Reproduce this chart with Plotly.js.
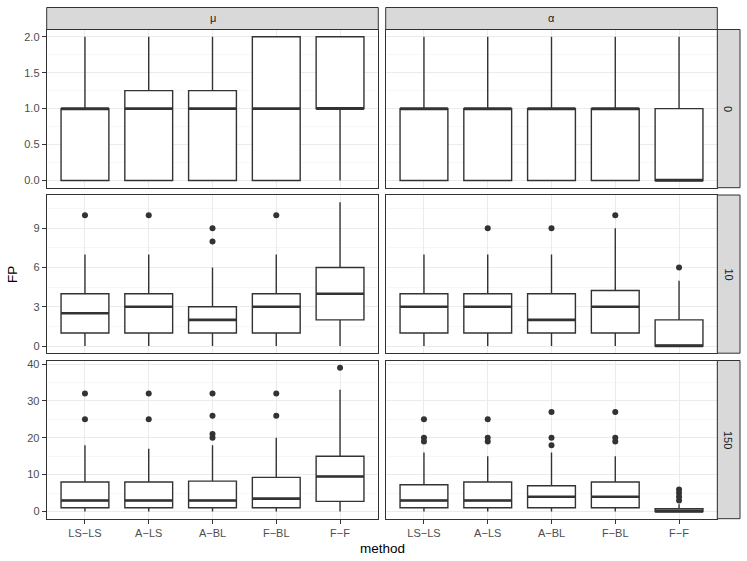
<!DOCTYPE html>
<html><head><meta charset="utf-8">
<script src="https://cdn.plot.ly/plotly-3.0.1.min.js"></script>
<style>html,body{margin:0;padding:0;background:#fff}</style>
</head><body><div id="chart" style="width:747px;height:561px"></div>
<script>
const methods = ['LS\u2212LS','A\u2212LS','A\u2212BL','F\u2212BL','F\u2212F'];
const colLabels = ['\u03bc','\u03b1'];
const rowLabels = ['0','10','150'];

// mu, row 0
const mu0_lower = [0,0,0,0,0];
const mu0_q1    = [0,0,0,0,1];
const mu0_med   = [1,1,1,1,1];
const mu0_q3    = [1,1.25,1.25,2,2];
const mu0_upper = [2,2,2,2,2];
const mu0_outX  = [];
const mu0_outY  = [];
// alpha, row 0
const al0_lower = [0,0,0,0,0];
const al0_q1    = [0,0,0,0,0];
const al0_med   = [1,1,1,1,0];
const al0_q3    = [1,1,1,1,1];
const al0_upper = [2,2,2,2,2];
const al0_outX  = [];
const al0_outY  = [];
// mu, row 10
const mu10_lower = [0,0,0,0,0];
const mu10_q1    = [1,1,1,1,2];
const mu10_med   = [2.5,3,2,3,4];
const mu10_q3    = [4,4,3,4,6];
const mu10_upper = [7,7,6,7,11];
const mu10_outX  = ['LS\u2212LS','A\u2212LS','A\u2212BL','A\u2212BL','F\u2212BL'];
const mu10_outY  = [10,10,8,9,10];
// alpha, row 10
const al10_lower = [0,0,0,0,0];
const al10_q1    = [1,1,1,1,0];
const al10_med   = [3,3,2,3,0];
const al10_q3    = [4,4,4,4.25,2];
const al10_upper = [7,7,7,9,5];
const al10_outX  = ['A\u2212LS','A\u2212BL','F\u2212BL','F\u2212F'];
const al10_outY  = [9,9,10,6];
// mu, row 150
const mu150_lower = [0,0,0,0,0];
const mu150_q1    = [1,1,1,1,2.75];
const mu150_med   = [3,3,3,3.5,9.5];
const mu150_q3    = [8,8,8.25,9.25,15];
const mu150_upper = [18,17,18,20,33];
const mu150_outX  = ['LS\u2212LS','LS\u2212LS','A\u2212LS','A\u2212LS','A\u2212BL','A\u2212BL','A\u2212BL','A\u2212BL','F\u2212BL','F\u2212BL','F\u2212F'];
const mu150_outY  = [25,32,25,32,20,21,26,32,26,32,39];
// alpha, row 150
const al150_lower = [0,0,0,0,0];
const al150_q1    = [1,1,1,1,0];
const al150_med   = [3,3,4,4,0];
const al150_q3    = [7.25,8,7,8,0.75];
const al150_upper = [16,15,16,15,2];
const al150_outX  = ['LS\u2212LS','LS\u2212LS','LS\u2212LS','A\u2212LS','A\u2212LS','A\u2212LS','A\u2212BL','A\u2212BL','A\u2212BL','F\u2212BL','F\u2212BL','F\u2212BL','F\u2212F','F\u2212F','F\u2212F','F\u2212F'];
const al150_outY  = [19,20,25,19,20,25,18,20,27,19,20,27,3,4,5,6];

const panels = [
  [mu0_lower,mu0_q1,mu0_med,mu0_q3,mu0_upper,mu0_outX,mu0_outY],
  [al0_lower,al0_q1,al0_med,al0_q3,al0_upper,al0_outX,al0_outY],
  [mu10_lower,mu10_q1,mu10_med,mu10_q3,mu10_upper,mu10_outX,mu10_outY],
  [al10_lower,al10_q1,al10_med,al10_q3,al10_upper,al10_outX,al10_outY],
  [mu150_lower,mu150_q1,mu150_med,mu150_q3,mu150_upper,mu150_outX,mu150_outY],
  [al150_lower,al150_q1,al150_med,al150_q3,al150_upper,al150_outX,al150_outY]
];

const W = 747, H = 561;
const colPx = [[46.7,378.3],[385.7,717.3]];
const rowPx = [[29.5,187.7],[195,353.2],[360.5,518.7]];
const rowAxis = [
  {range:[-0.1,2.1], dtick:0.5, minor:0.25, fmt:'.1f'},
  {range:[-0.55,11.55], dtick:3, minor:1.5, fmt:'d'},
  {range:[-1.95,40.95], dtick:10, minor:5, fmt:'d'}
];
const BW = 0.75;
const dark = '#333333';
const FONT = 'Liberation Sans, Arial, sans-serif';

const px = v => v / W;
const py = v => 1 - v / H;
const idx = m => methods.indexOf(m);
const pos = methods.map((m,i)=>i);

const data = [];
const layout = {
  width: W, height: H, autosize: false,
  margin: {l:0, r:0, t:0, b:0},
  paper_bgcolor: 'white', plot_bgcolor: 'white',
  showlegend: false,
  font: {family: FONT},
  shapes: [], annotations: []
};

panels.forEach((p, k) => {
  const r = Math.floor(k/2), c = k % 2;
  const xa = k === 0 ? 'x' : 'x' + (k+1);
  const ya = k === 0 ? 'y' : 'y' + (k+1);
  const [lo,q1,med,q3,up,ox,oy] = p;
  data.push({
    type:'box', x: pos, q1: q1, median: med, q3: q3, lowerfence: lo, upperfence: up,
    width: BW, whiskerwidth: 0, fillcolor: 'white', boxpoints: false,
    line: {color: dark, width: 1.4}, xaxis: xa, yaxis: ya, hoverinfo: 'skip'
  });
  const mx = [], my = [];
  med.forEach((m,i) => { mx.push(i-BW/2, i+BW/2, null); my.push(m, m, null); });
  data.push({type:'scatter', mode:'lines', x: mx, y: my, line:{color: dark, width: 2.6},
    xaxis: xa, yaxis: ya, hoverinfo:'skip'});
  if (ox.length) {
    data.push({type:'scatter', mode:'markers', x: ox.map(idx), y: oy,
      marker:{color: dark, size: 6}, xaxis: xa, yaxis: ya, hoverinfo:'skip'});
  }
  const ra = rowAxis[r];
  const xName = k === 0 ? 'xaxis' : 'xaxis' + (k+1);
  const yName = k === 0 ? 'yaxis' : 'yaxis' + (k+1);
  const bottom = r === 2, left = c === 0;
  layout[xName] = {
    domain: [px(colPx[c][0]), px(colPx[c][1])], anchor: ya,
    range: [-0.6, 4.6], tickmode: 'array', tickvals: pos, ticktext: methods,
    showticklabels: bottom, ticks: bottom ? 'outside' : '', ticklen: 4, tickcolor: dark, tickwidth: 1,
    tickfont: {size: 11, color: '#4D4D4D', family: FONT},
    showgrid: true, gridcolor: '#EBEBEB', gridwidth: 1, zeroline: false,
    showline: true, mirror: true, linecolor: dark, linewidth: 1, fixedrange: true
  };
  layout[yName] = {
    domain: [py(rowPx[r][1]), py(rowPx[r][0])], anchor: xa,
    range: ra.range, tickmode: 'linear', tick0: 0, dtick: ra.dtick, tickformat: ra.fmt,
    showticklabels: left, ticks: left ? 'outside' : '', ticklen: 4, tickcolor: dark, tickwidth: 1,
    tickfont: {size: 11, color: '#4D4D4D', family: FONT},
    showgrid: true, gridcolor: '#EBEBEB', gridwidth: 1, zeroline: false,
    minor: {dtick: ra.minor, tick0: 0, showgrid: true, gridcolor: '#F2F2F2', gridwidth: 0.6},
    showline: true, mirror: true, linecolor: dark, linewidth: 1, fixedrange: true
  };
});

// top strips
colLabels.forEach((t, c) => {
  layout.shapes.push({type:'rect', xref:'paper', yref:'paper',
    x0: px(colPx[c][0]), x1: px(colPx[c][1]), y0: py(29.5), y1: py(7.5),
    fillcolor:'#D9D9D9', line:{color: dark, width: 1}});
  layout.annotations.push({xref:'paper', yref:'paper', x: px((colPx[c][0]+colPx[c][1])/2), y: py(18.5),
    text: t, showarrow:false, font:{size: 11, color:'#1A1A1A', family: FONT}, xanchor:'center', yanchor:'middle'});
});
// right strips
rowLabels.forEach((t, r) => {
  layout.shapes.push({type:'rect', xref:'paper', yref:'paper',
    x0: px(717.3), x1: px(740), y0: py(rowPx[r][1]), y1: py(rowPx[r][0]),
    fillcolor:'#D9D9D9', line:{color: dark, width: 1}});
  layout.annotations.push({xref:'paper', yref:'paper', x: px(728.6), y: py((rowPx[r][0]+rowPx[r][1])/2),
    text: t, textangle: 90, showarrow:false, font:{size: 11, color:'#1A1A1A', family: FONT}, xanchor:'center', yanchor:'middle'});
});
// axis titles
layout.annotations.push({xref:'paper', yref:'paper', x: px(12), y: py(274), text:'FP', textangle:-90,
  showarrow:false, font:{size: 13.5, color:'#000000', family: FONT}, xanchor:'center', yanchor:'middle'});
layout.annotations.push({xref:'paper', yref:'paper', x: px(382), y: py(548), text:'method',
  showarrow:false, font:{size: 13.5, color:'#000000', family: FONT}, xanchor:'center', yanchor:'middle'});

Plotly.newPlot('chart', data, layout, {staticPlot: true, displayModeBar: false});
</script>
</body></html>
